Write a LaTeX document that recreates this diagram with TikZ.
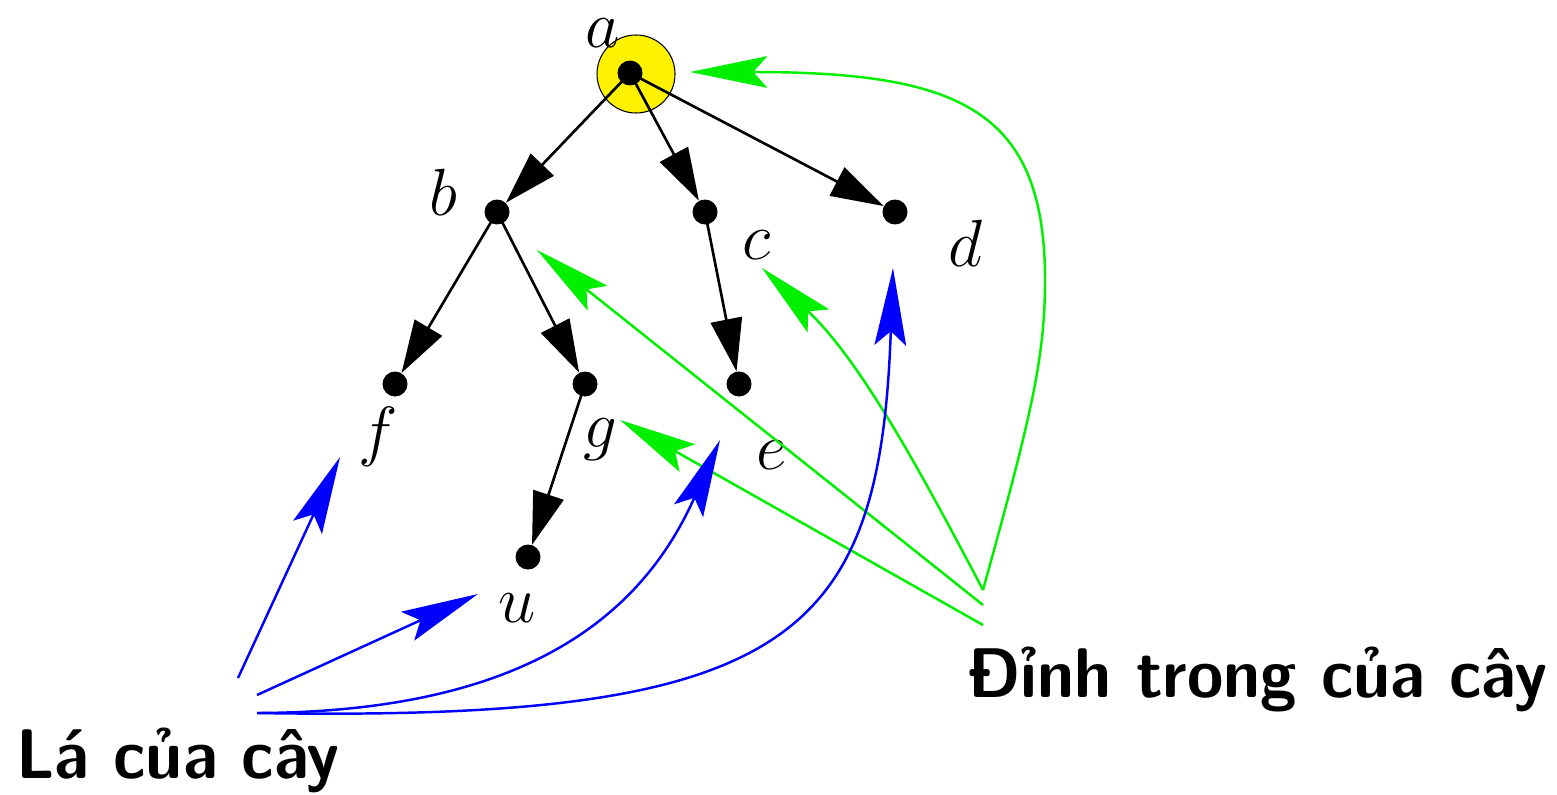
\RequirePackage{fix-cm}
\documentclass[tikz,border=0pt]{standalone}
\usetikzlibrary{arrows.meta}
\begin{document}
\begin{tikzpicture}[x=0.02cm,y=-0.02cm,
  dot/.style={circle,fill=black,inner sep=0pt,minimum size=0.5cm},
  lbl/.style={inner sep=0pt,font=\fontsize{38}{40}\selectfont},
  edge/.style={line width=1.5pt,-{Triangle[length=30pt,width=18pt]}},
  grn/.style={line width=1.4pt,draw={rgb,255:red,0;green,240;blue,0},-{Stealth[length=44pt,width=18pt,inset=8pt]}},
  blu/.style={line width=1.4pt,draw=blue,-{Stealth[length=44pt,width=18pt,inset=8pt]}},
  big/.style={inner sep=0pt,font=\fontsize{40}{44}\selectfont\sffamily\bfseries}]
\useasboundingbox (0,0) rectangle (1557,794);
\fill[yellow,draw=black,line width=0.6pt] (636,74) circle (39);
\node[dot] (a) at (630,73) {};
\node[dot] (b) at (497,212) {};
\node[dot] (c) at (705,212) {};
\node[dot] (d) at (895,212) {};
\node[dot] (f) at (395,384) {};
\node[dot] (g) at (585,384) {};
\node[dot] (e) at (739,384) {};
\node[dot] (u) at (528,557) {};
\node[lbl] (la) at (603,33) {$a$};
\node[lbl] (lb) at (443,192) {$b$};
\node[lbl] (lc) at (757,245) {$c$};
\node[lbl] (ld) at (965,243) {$d$};
\node[lbl] (lf) at (378,437) {$f$};
\node[lbl] (lg) at (600,440) {$g$};
\node[lbl] (le) at (772,455) {$e$};
\node[lbl] (lu) at (517,608) {$u$};
\draw[edge] (a.center) -- (b);
\draw[edge] (a.center) -- (c);
\draw[edge] (a.center) -- (d);
\draw[edge] (b.center) -- (f);
\draw[edge] (b.center) -- (g);
\draw[edge] (c.center) -- (e);
\draw[edge] (g.center) -- (u);
\node[big,anchor=base west] (tin) at (968,697) {\scalebox{0.94}[1]{Đỉnh trong của cây}};
\node[big,anchor=base west] (tla) at (16,778) {\scalebox{0.94}[1]{Lá của cây}};
\coordinate (s1) at (983,590);
\coordinate (s2) at (983,605);
\coordinate (s3) at (983,625);
\coordinate (ta) at (690,72);
\coordinate (tc) at (762,268);
\coordinate (tb) at (537,250);
\coordinate (tg) at (620,420);
\draw[grn] (s1) .. controls (1030,420) and (1045,360) .. (1045,280) .. controls (1045,110) and (960,72) .. (ta);
\draw[grn] (s1) .. controls (920,470) and (860,360) .. (tc);
\draw[grn] (s2) -- (tb);
\draw[grn] (s3) -- (tg);
\coordinate (p1) at (238,678);
\coordinate (p2) at (257,695);
\coordinate (p3) at (257,713);
\coordinate (tf) at (340,457);
\coordinate (tu) at (478,594);
\coordinate (te) at (720,440);
\coordinate (td) at (893,268);
\draw[blu] (p1) -- (tf);
\draw[blu] (p2) -- (tu);
\draw[blu] (p3) .. controls (520,712) and (640,620) .. (te);
\draw[blu] (p3) .. controls (790,722) and (880,640) .. (td);
\end{tikzpicture}
\end{document}
